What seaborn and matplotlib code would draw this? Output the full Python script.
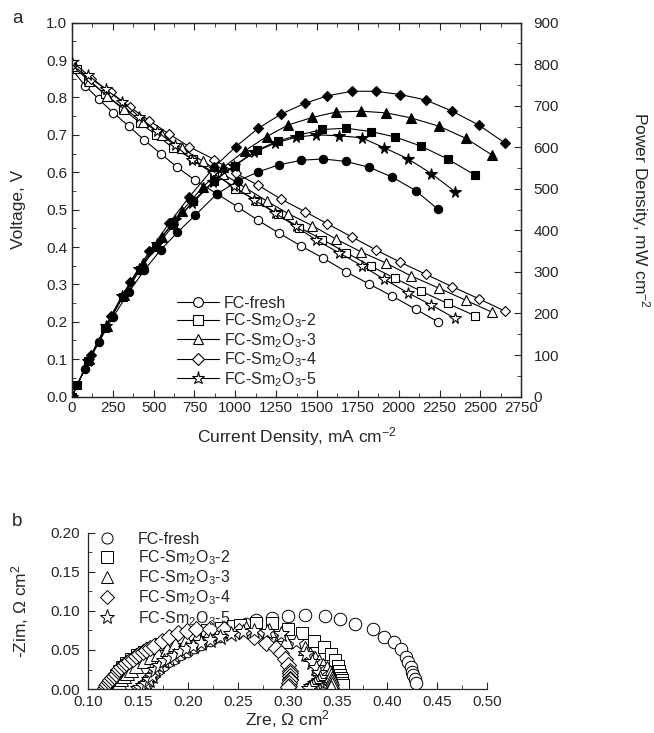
import numpy as np
import matplotlib
matplotlib.use("Agg")
import matplotlib.pyplot as plt
import seaborn as sns
from matplotlib.lines import Line2D
from matplotlib.ticker import MultipleLocator, FormatStrFormatter

sns.set_style("ticks")
plt.rcParams["font.family"] = ["Liberation Sans", "DejaVu Sans"]
plt.rcParams["mathtext.fontset"] = "custom"
plt.rcParams["mathtext.rm"] = "Liberation Sans"
plt.rcParams["mathtext.it"] = "Liberation Sans:italic"

labels = ["FC-fresh", r"FC-Sm$_2$O$_3$-2", r"FC-Sm$_2$O$_3$-3",
          r"FC-Sm$_2$O$_3$-4", r"FC-Sm$_2$O$_3$-5"]
markers = ["o", "s", "^", "D", "*"]

# ---- panel a: polarisation curves ----
i_fresh = [0, 80, 165, 253, 349, 443, 543, 645, 753, 885, 1015, 1141, 1268, 1405,
           1539, 1678, 1819, 1962, 2103, 2240]
v_fresh = [0.875, 0.832, 0.795, 0.759, 0.723, 0.686, 0.650, 0.613, 0.579, 0.543,
           0.507, 0.471, 0.437, 0.402, 0.370, 0.334, 0.301, 0.268, 0.234, 0.200]
p_fresh = [0, 67, 131, 192, 252, 304, 353, 395, 436, 487, 519, 541, 558, 569,
           572, 566, 552, 528, 496, 451]

i_sm2 = [0, 33, 100, 205, 310, 415, 515, 620, 740, 870, 1000, 1131, 1260, 1392,
         1533, 1678, 1829, 1978, 2136, 2299, 2468]
v_sm2 = [0.885, 0.875, 0.848, 0.808, 0.770, 0.733, 0.700, 0.665, 0.635, 0.598,
         0.556, 0.524, 0.488, 0.452, 0.420, 0.385, 0.349, 0.316, 0.282, 0.249, 0.216]
p_sm2 = [0, 29, 85, 166, 239, 304, 360, 412, 470, 520, 556, 593, 615, 630, 643,
         646, 638, 625, 603, 572, 533]

i_sm3 = [0, 106, 212, 318, 437, 549, 672, 800, 927, 1060, 1192, 1325, 1472, 1617,
         1770, 1923, 2074, 2246, 2409, 2574]
v_sm3 = [0.885, 0.845, 0.805, 0.770, 0.735, 0.700, 0.664, 0.630, 0.595, 0.559,
         0.523, 0.489, 0.457, 0.421, 0.387, 0.357, 0.323, 0.290, 0.258, 0.225]
p_sm3 = [0, 90, 171, 245, 321, 384, 446, 504, 552, 592, 626, 654, 672, 685, 687,
         683, 671, 651, 622, 581]

i_sm4 = [0, 118, 237, 355, 474, 596, 719, 872, 1004, 1141, 1280, 1425, 1564, 1713,
         1862, 2011, 2166, 2327, 2489, 2652]
v_sm4 = [0.887, 0.850, 0.814, 0.774, 0.738, 0.702, 0.668, 0.634, 0.597, 0.565,
         0.528, 0.495, 0.462, 0.427, 0.392, 0.359, 0.327, 0.294, 0.262, 0.228]
p_sm4 = [0, 100, 193, 275, 350, 418, 481, 553, 602, 646, 680, 706, 724, 735, 735,
         727, 714, 687, 654, 610]

i_sm5 = [0, 100, 206, 308, 410, 519, 631, 737, 864, 990, 1117, 1243, 1370, 1494,
         1633, 1774, 1911, 2054, 2199, 2346]
v_sm5 = [0.896, 0.860, 0.822, 0.789, 0.749, 0.710, 0.672, 0.633, 0.597, 0.562,
         0.526, 0.491, 0.455, 0.419, 0.385, 0.350, 0.314, 0.278, 0.245, 0.209]
p_sm5 = [0, 86, 169, 243, 307, 368, 424, 466, 516, 556, 588, 610, 624, 630, 628,
         623, 599, 573, 537, 493]

cur = [i_fresh, i_sm2, i_sm3, i_sm4, i_sm5]
volt = [v_fresh, v_sm2, v_sm3, v_sm4, v_sm5]
power = [p_fresh, p_sm2, p_sm3, p_sm4, p_sm5]

# ---- panel b: impedance spectra ----
zre_fresh = [0.156, 0.158, 0.160, 0.163, 0.166, 0.170, 0.175, 0.180, 0.186, 0.192,
             0.199, 0.206, 0.213, 0.222, 0.231, 0.240, 0.249, 0.258, 0.268, 0.284,
             0.300, 0.317, 0.337, 0.352, 0.367, 0.385, 0.396, 0.407, 0.414, 0.419,
             0.421, 0.424, 0.425, 0.426, 0.428, 0.429]
zim_fresh = [0.002, 0.007, 0.011, 0.016, 0.021, 0.026, 0.031, 0.036, 0.040, 0.045,
             0.049, 0.054, 0.058, 0.063, 0.068, 0.073, 0.078, 0.083, 0.088, 0.091,
             0.094, 0.0945, 0.093, 0.090, 0.0835, 0.077, 0.066, 0.060, 0.0515, 0.041,
             0.035, 0.028, 0.022, 0.018, 0.013, 0.008]

zre_sm2 = [0.122, 0.123, 0.124, 0.126, 0.128, 0.131, 0.134, 0.138, 0.143, 0.149,
           0.156, 0.164, 0.173, 0.183, 0.194, 0.206, 0.219, 0.233, 0.2455, 0.252,
           0.268, 0.284, 0.300, 0.314, 0.326, 0.336, 0.3436, 0.3474, 0.350, 0.351,
           0.3525, 0.3535, 0.354, 0.3545, 0.355]
zim_sm2 = [0.001, 0.005, 0.009, 0.013, 0.018, 0.023, 0.028, 0.033, 0.038, 0.043,
           0.048, 0.053, 0.058, 0.063, 0.067, 0.071, 0.075, 0.078, 0.081, 0.082,
           0.0846, 0.084, 0.0772, 0.0717, 0.0618, 0.0533, 0.0449, 0.0368, 0.0294,
           0.0228, 0.0184, 0.014, 0.011, 0.008, 0.005]

zre_sm3 = [0.128, 0.129, 0.131, 0.133, 0.136, 0.139, 0.143, 0.148, 0.1558, 0.163,
           0.1697, 0.1785, 0.1874, 0.1975, 0.2088, 0.2214, 0.239, 0.2583, 0.281,
           0.293, 0.298, 0.317, 0.322, 0.327, 0.331, 0.335, 0.339, 0.342, 0.3435,
           0.344, 0.3445, 0.344, 0.343]
zim_sm3 = [0.001, 0.005, 0.009, 0.013, 0.017, 0.021, 0.025, 0.030, 0.036, 0.041,
           0.0445, 0.0518, 0.0573, 0.0628, 0.0672, 0.072, 0.0755, 0.0785, 0.0754,
           0.0699, 0.0618, 0.052, 0.045, 0.040, 0.036, 0.031, 0.027, 0.022, 0.018,
           0.014, 0.010, 0.006, 0.003]

zre_sm4 = [0.1167, 0.1180, 0.1192, 0.1205, 0.1217, 0.1236, 0.1255, 0.1274, 0.1293,
           0.1311, 0.133, 0.1355, 0.138, 0.1412, 0.1444, 0.1476, 0.1508, 0.1546,
           0.1583, 0.162, 0.1659, 0.1735, 0.181, 0.190, 0.1987, 0.208, 0.222, 0.236,
           0.2508, 0.2658, 0.2779, 0.288, 0.2935, 0.2972, 0.300, 0.3018, 0.3025,
           0.3025, 0.3023, 0.302, 0.3015, 0.301, 0.3005]
zim_sm4 = [0.0007, 0.0035, 0.0062, 0.009, 0.0117, 0.0144, 0.017, 0.0198, 0.0226,
           0.0253, 0.028, 0.0308, 0.0336, 0.0363, 0.039, 0.0418, 0.0445, 0.0473,
           0.050, 0.0528, 0.0555, 0.061, 0.0664, 0.072, 0.0745, 0.0765, 0.0775,
           0.0765, 0.0737, 0.0664, 0.0591, 0.053, 0.0456, 0.0383, 0.031, 0.0237,
           0.020, 0.0164, 0.013, 0.011, 0.008, 0.0044, 0.002]

zre_sm5 = [0.150, 0.152, 0.155, 0.1583, 0.161, 0.1634, 0.167, 0.171, 0.176, 0.181,
           0.186, 0.192, 0.198, 0.205, 0.213, 0.222, 0.232, 0.243, 0.255, 0.2658,
           0.279, 0.2935, 0.3085, 0.318, 0.324, 0.328, 0.331, 0.332, 0.331, 0.329,
           0.327, 0.325, 0.323, 0.321]
zim_sm5 = [0.000, 0.0015, 0.004, 0.0062, 0.0117, 0.017, 0.0245, 0.030, 0.0354, 0.039,
           0.0427, 0.047, 0.051, 0.055, 0.059, 0.063, 0.067, 0.071, 0.073, 0.0748,
           0.073, 0.070, 0.0602, 0.045, 0.035, 0.027, 0.020, 0.014, 0.010, 0.008,
           0.006, 0.004, 0.002, 0.000]

zre = [zre_fresh, zre_sm2, zre_sm3, zre_sm4, zre_sm5]
zim = [zim_fresh, zim_sm2, zim_sm3, zim_sm4, zim_sm5]

fig = plt.figure(figsize=(6.54, 7.33), dpi=100)

# ---------------- panel a ----------------
ax = fig.add_axes([0.110, 0.459, 0.687, 0.510])
ax2 = ax.twinx()
msize = {"o": 6, "s": 6, "^": 6.5, "D": 5.5, "*": 8.5}

handles = []
for k in range(5):
    m = markers[k]
    sns.lineplot(x=cur[k], y=volt[k], ax=ax, color="black", lw=0.8,
                 marker=m, ms=msize[m], markerfacecolor="white",
                 markeredgecolor="black", markeredgewidth=0.8,
                 estimator=None, sort=False, legend=False)
    sns.lineplot(x=cur[k], y=power[k], ax=ax2, color="black", lw=0.8,
                 marker=m, ms=msize[m], markerfacecolor="black",
                 markeredgecolor="black", markeredgewidth=0.8,
                 estimator=None, sort=False, legend=False)
    handles.append(Line2D([0], [0], color="black", lw=0.8, marker=m,
                          ms=msize[m] + 1, markerfacecolor="white",
                          markeredgecolor="black", markeredgewidth=0.8,
                          label=labels[k]))

ax.set_xlim(0, 2750)
ax.set_ylim(0, 1.0)
ax2.set_ylim(0, 900)
ax.xaxis.set_major_locator(MultipleLocator(250))
ax.xaxis.set_minor_locator(MultipleLocator(125))
ax.yaxis.set_major_locator(MultipleLocator(0.1))
ax.yaxis.set_minor_locator(MultipleLocator(0.05))
ax2.yaxis.set_major_locator(MultipleLocator(100))
ax2.yaxis.set_minor_locator(MultipleLocator(50))
ax.yaxis.set_major_formatter(FormatStrFormatter("%.1f"))
ax.tick_params(which="both", direction="in", top=True, right=False, labelsize=11)
ax.tick_params(which="major", length=5)
ax.tick_params(which="minor", length=3)
ax2.tick_params(which="both", direction="in", labelsize=11, pad=9)
ax2.tick_params(which="major", length=5)
ax2.tick_params(which="minor", length=3)
ax.set_xlabel(r"Current Density, mA cm$^{-2}$", fontsize=12.5, labelpad=7)
ax.set_ylabel("Voltage, V", fontsize=12.5)
ax.yaxis.label.set_verticalalignment("center")
ax.yaxis.set_label_coords(-0.12, 0.5)
ax2.set_ylabel(r"Power Density, mW cm$^{-2}$", fontsize=12.5, rotation=270)
ax2.yaxis.label.set_verticalalignment("center")
ax2.yaxis.set_label_coords(1.265, 0.5)
for a in (ax, ax2):
    for s in a.spines.values():
        s.set_linewidth(0.9)

ax.legend(handles=handles, loc="upper left", bbox_to_anchor=(0.21, 0.30),
          frameon=False, fontsize=11.5, handlelength=2.6, handletextpad=0.3,
          labelspacing=0.05, borderpad=0.2)

# ---------------- panel b ----------------
bx = fig.add_axes([0.135, 0.060, 0.610, 0.213])
bsize = {"o": 9, "s": 9, "^": 10, "D": 8.5, "*": 12}
for k in range(5):
    m = markers[k]
    sns.lineplot(x=zre[k], y=zim[k], ax=bx, lw=0, marker=m, ms=bsize[m],
                 markerfacecolor="white", markeredgecolor="black",
                 markeredgewidth=0.7, color="black",
                 estimator=None, sort=False, legend=False)

bhandles = [Line2D([0], [0], lw=0, marker=markers[k], ms=bsize[markers[k]] - 1,
                   markerfacecolor="white", markeredgecolor="black",
                   markeredgewidth=0.7, label=labels[k]) for k in range(5)]
bx.legend(handles=bhandles, loc="upper left", bbox_to_anchor=(0.0, 1.07),
          frameon=False, fontsize=11.5, handlelength=1.2, handletextpad=1.3,
          labelspacing=0.1, borderpad=0.1)

bx.set_xlim(0.10, 0.50)
bx.set_ylim(0, 0.20)
bx.xaxis.set_major_locator(MultipleLocator(0.05))
bx.xaxis.set_minor_locator(MultipleLocator(0.025))
bx.yaxis.set_major_locator(MultipleLocator(0.05))
bx.yaxis.set_minor_locator(MultipleLocator(0.025))
bx.xaxis.set_major_formatter(FormatStrFormatter("%.2f"))
bx.yaxis.set_major_formatter(FormatStrFormatter("%.2f"))
bx.tick_params(which="both", direction="in", labelsize=11)
bx.tick_params(axis="x", pad=4)
bx.tick_params(axis="y", pad=6)
bx.tick_params(which="major", length=5)
bx.tick_params(which="minor", length=3)
bx.spines[["top", "right"]].set_visible(False)
for s in bx.spines.values():
    s.set_linewidth(0.9)
bx.set_xlabel(r"Zre, Ω cm$^2$", fontsize=12.5, labelpad=0)
bx.set_ylabel(r"-Zim, Ω cm$^2$", fontsize=12.5)
bx.yaxis.label.set_verticalalignment("center")
bx.yaxis.set_label_coords(-0.17, 0.5)

fig.text(0.018, 0.968, "a", fontsize=13.5)
fig.text(0.018, 0.282, "b", fontsize=13.5)

fig.savefig("out.png", dpi=100)
